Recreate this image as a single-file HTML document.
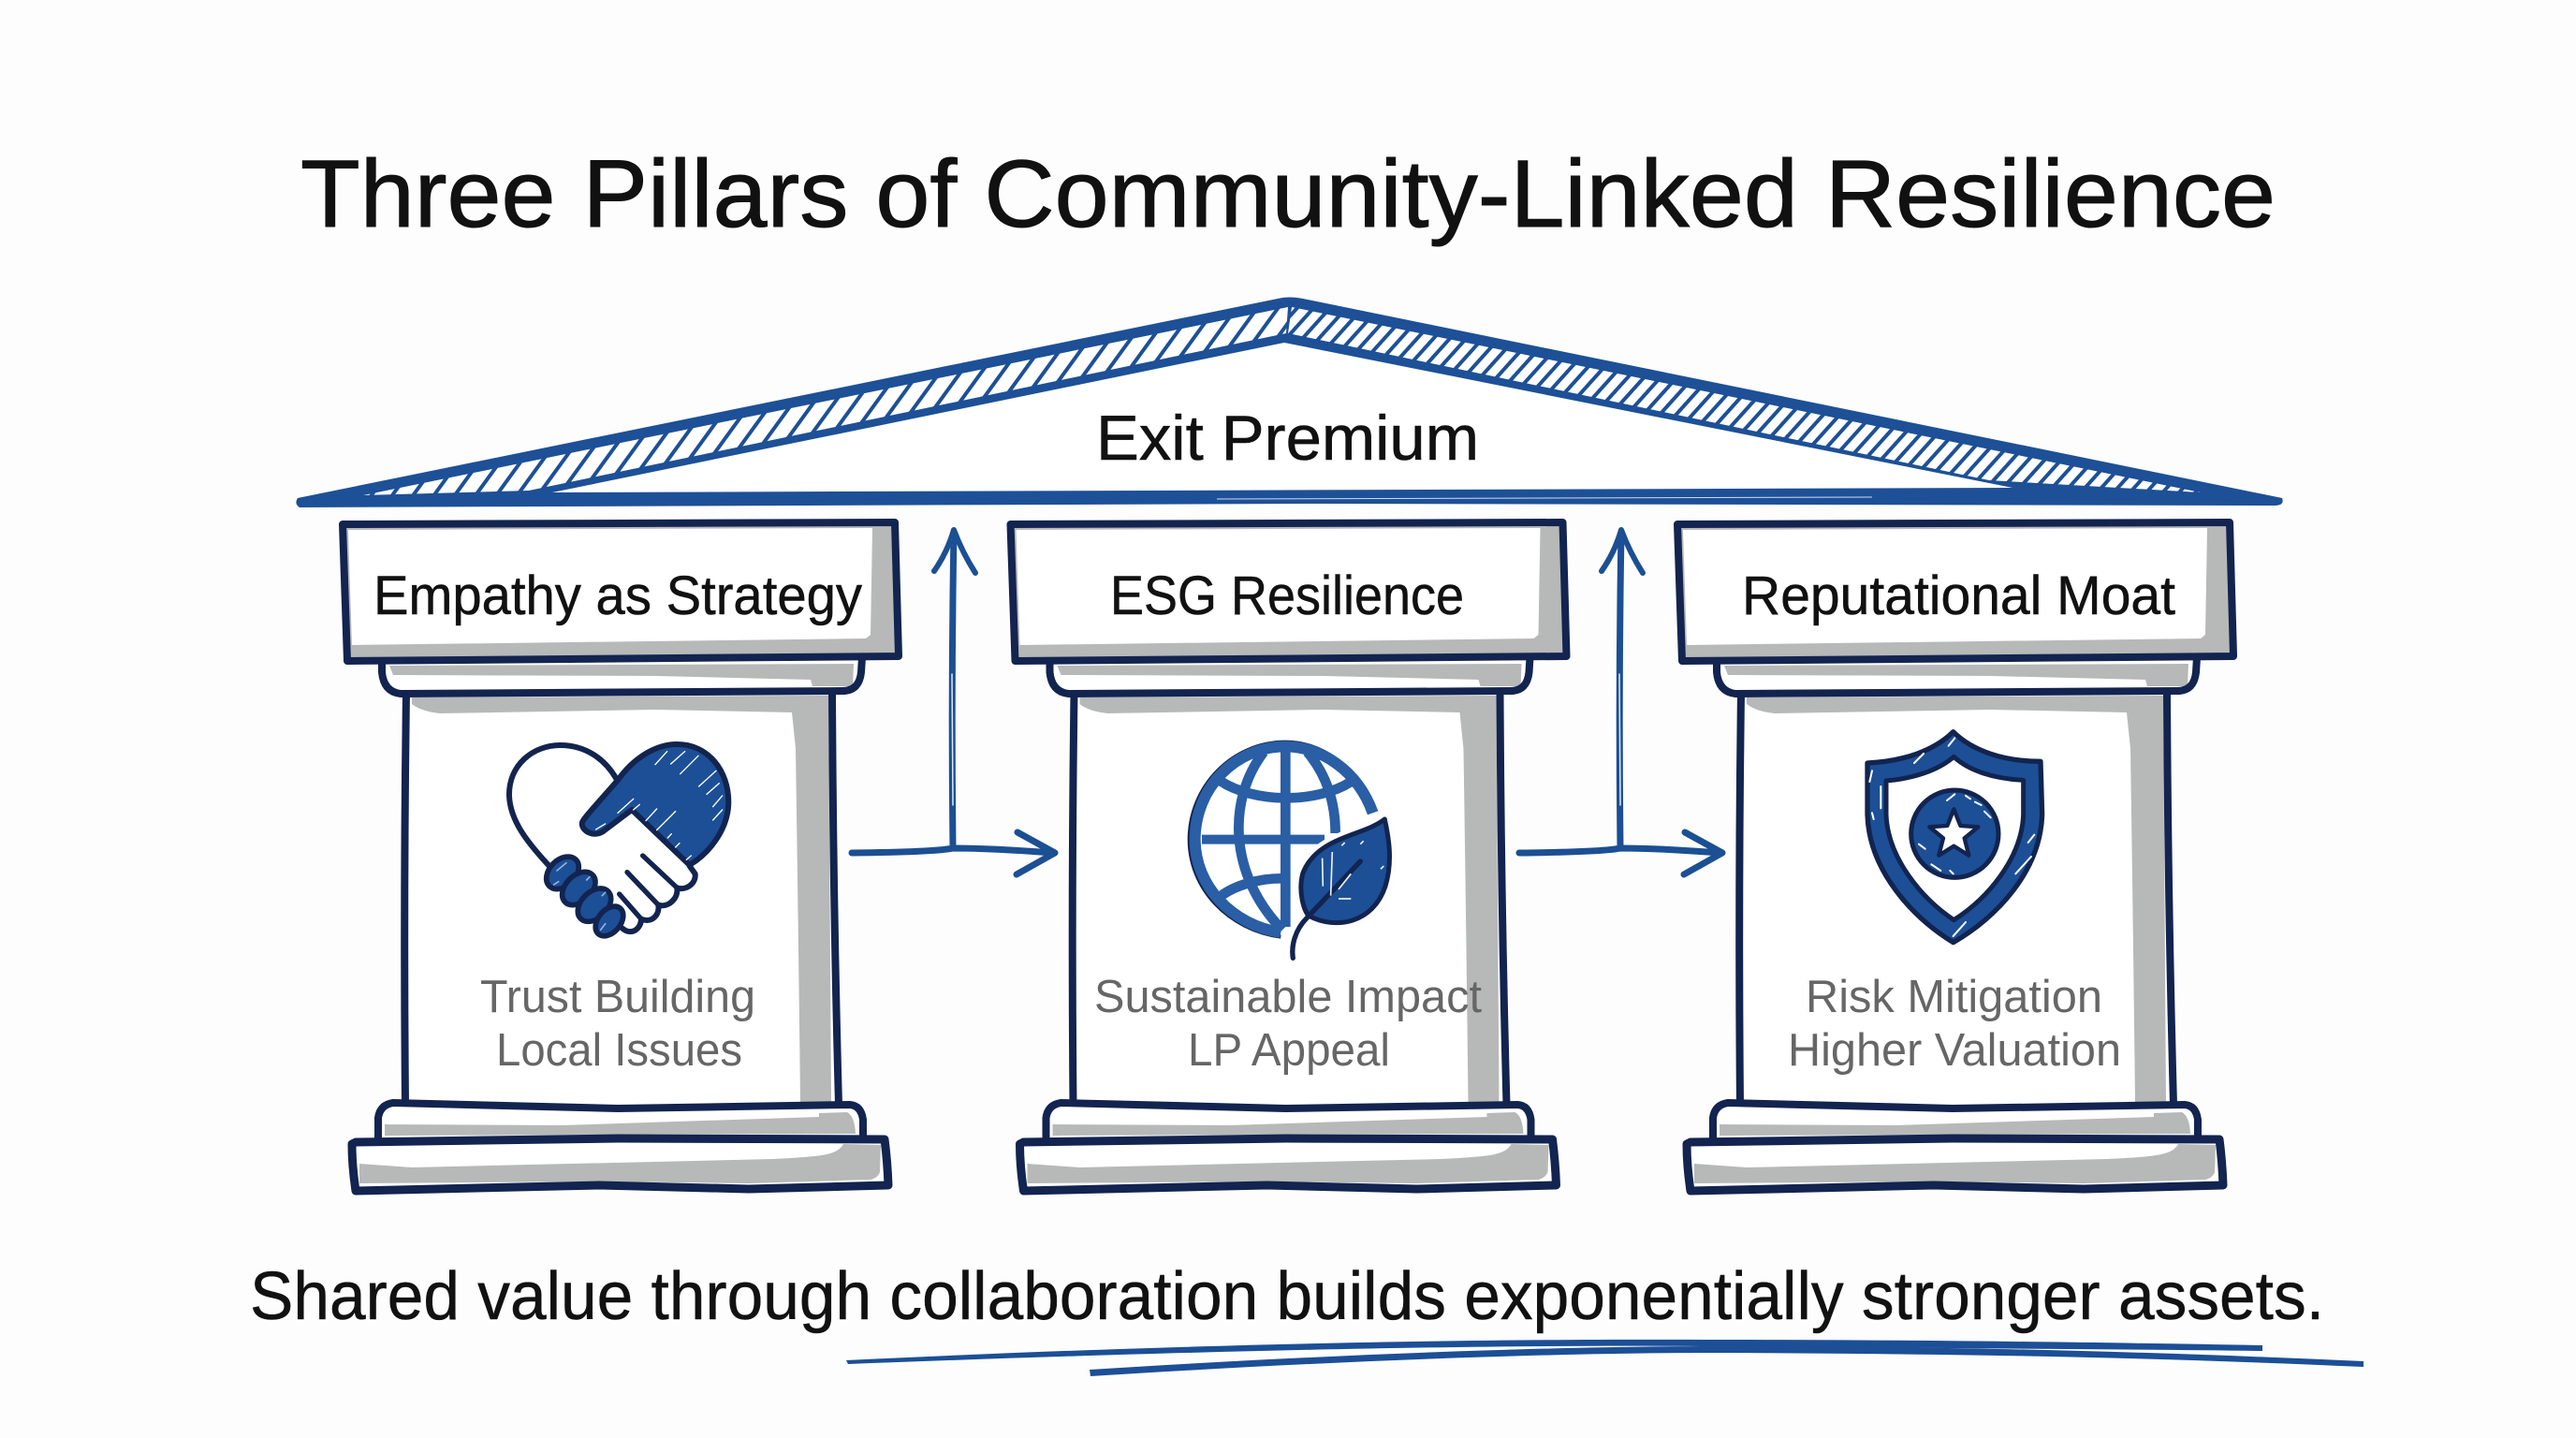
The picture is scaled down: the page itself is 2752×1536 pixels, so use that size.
<!DOCTYPE html>
<html lang="en"><head><meta charset="utf-8"><title>Three Pillars of Community-Linked Resilience</title>
<style>html,body{margin:0;padding:0;background:#fdfdfd}svg{display:block}text{font-family:"Liberation Sans",sans-serif;text-anchor:start}</style></head>
<body>
<svg xmlns="http://www.w3.org/2000/svg" width="2752" height="1536" viewBox="0 0 2752 1536">
<defs>
<pattern id="hl" width="18" height="18" patternUnits="userSpaceOnUse" patternTransform="rotate(36)">
<rect width="18" height="18" fill="#fff"/><rect width="4" height="18" fill="#1d5096"/></pattern>
<pattern id="hr" width="13" height="13" patternUnits="userSpaceOnUse" patternTransform="rotate(42)">
<rect width="13" height="13" fill="#fff"/><rect width="4" height="13" fill="#1d5096"/></pattern>
<g id="pillar" stroke-linejoin="round" stroke-linecap="round">
<path d="M434 740 Q431 960 433 1180 L896 1180 Q890 960 889 740Z" fill="#fff"/>
<path d="M440 745 L885 743 L888 1178 L855 1178 Q853 1000 850 800 L846 761 L700 758 L470 762 Q450 760 440 752Z" fill="#b7b8b8"/>
<path d="M434 740 Q431 960 433 1180 M889 740 Q890 960 896 1180" fill="none" stroke="#12244f" stroke-width="8"/>
<path d="M408 704 L408 718 Q410 739 428 741 L900 738 Q918 738 920 718 L921 702Z" fill="#fff"/>
<path d="M416 711 L912 709 L911 733 L868 733 L866 726 L700 722 L420 721Z" fill="#b7b8b8"/>
<path d="M408 704 L408 718 Q410 739 428 741 L900 738 Q918 738 920 718 L921 702" fill="none" stroke="#12244f" stroke-width="8"/>
<path d="M366 560 L956 558 L960 701 L371 706Z" fill="#b7b8b8" stroke="#12244f" stroke-width="8"/>
<path d="M372 566 L932 564 L930 678 L925 682 L376 689Z" fill="#fff"/>
<path d="M404 1216 L404 1194 Q406 1180 420 1178 L660 1184 L908 1180 Q920 1181 922 1196 L922 1216Z" fill="#fff"/>
<path d="M411 1201 L600 1202 L875 1193 L875 1189 L905 1188 Q913 1192 914 1211 L411 1213Z" fill="#b7b8b8"/>
<path d="M404 1216 L404 1194 Q406 1180 420 1178 L660 1184 L908 1180 Q920 1181 922 1196 L922 1216" fill="none" stroke="#12244f" stroke-width="8"/>
<path d="M380 1220 L660 1216 L945 1217 Q948 1240 949 1266 L800 1270 L640 1266 L380 1272 Q376 1245 376 1222Z" fill="#fff"/>
<path d="M384 1243 L440 1247 L825 1238 Q870 1236 883 1233 Q897 1230 901 1222 L941 1223 L940 1252 Q938 1258 930 1260 L800 1264 L640 1262 L384 1264Z" fill="#b7b8b8"/>
<path d="M380 1220 L660 1216 L945 1217 Q948 1240 949 1266 L800 1270 L640 1266 L380 1272 Q376 1245 376 1222Z" fill="none" stroke="#12244f" stroke-width="9"/>
</g>
<g id="arrow" fill="none" stroke="#1c4f93" stroke-linecap="round" stroke-linejoin="round">
<path d="M1019 568 Q1016 740 1018 905" stroke-width="7"/>
<path d="M910 911 Q1000 910 1018 906 Q1060 906 1124 911" stroke-width="7"/>
<path d="M998 610 Q1012 590 1019 566 Q1028 590 1042 612" stroke-width="6"/>
<path d="M1087 889 L1127 911 L1086 934" stroke-width="7"/>
<path d="M1017 720 L1018 860" stroke="#dfe8f3" stroke-width="1.5"/>
</g>
</defs>

<rect width="2752" height="1536" fill="#fdfdfd"/>

<text x="321" y="242" font-size="102" fill="#111" stroke="#111" stroke-width="1" textLength="2110" lengthAdjust="spacingAndGlyphs">Three Pillars of Community-Linked Resilience</text>

<!-- roof -->
<path d="M318 532 L1365 319 Q1377 316 1392 319 L2438 532 Q2441 540 2430 540 L1400 538 L320 542 Q314 538 318 532Z" fill="#1d5096"/>
<path d="M388 529 L1376 328 L1374 356 L565 524Z" fill="url(#hl)"/>
<path d="M1380 328 L2351 526 L2125 513 L1376 356Z" fill="url(#hr)"/>
<path d="M590 526 L1372 366 L2150 521Z" fill="#fff"/>
<path d="M1300 533 L2000 531" stroke="#cfdcee" stroke-width="1" fill="none"/>
<text x="1171" y="491" font-size="68" fill="#111" stroke="#111" stroke-width=".6" textLength="409" lengthAdjust="spacingAndGlyphs">Exit Premium</text>

<!-- pillars -->
<use href="#pillar"/>
<use href="#pillar" x="713.5"/>
<use href="#pillar" x="1426"/>

<text x="399" y="656" font-size="58" fill="#111" stroke="#111" stroke-width=".5" textLength="522" lengthAdjust="spacingAndGlyphs">Empathy as Strategy</text>
<text x="1186" y="656" font-size="58" fill="#111" stroke="#111" stroke-width=".5" textLength="378" lengthAdjust="spacingAndGlyphs">ESG Resilience</text>
<text x="1861" y="656" font-size="58" fill="#111" stroke="#111" stroke-width=".5" textLength="463" lengthAdjust="spacingAndGlyphs">Reputational Moat</text>

<text x="513" y="1081" font-size="49" fill="#666" textLength="294" lengthAdjust="spacingAndGlyphs">Trust Building</text>
<text x="530" y="1138" font-size="49" fill="#666" textLength="263" lengthAdjust="spacingAndGlyphs">Local Issues</text>
<text x="1169" y="1081" font-size="49" fill="#666" textLength="414" lengthAdjust="spacingAndGlyphs">Sustainable Impact</text>
<text x="1269" y="1138" font-size="49" fill="#666" textLength="216" lengthAdjust="spacingAndGlyphs">LP Appeal</text>
<text x="1929" y="1081" font-size="49" fill="#666" textLength="317" lengthAdjust="spacingAndGlyphs">Risk Mitigation</text>
<text x="1910" y="1138" font-size="49" fill="#666" textLength="356" lengthAdjust="spacingAndGlyphs">Higher Valuation</text>

<!-- arrows -->
<use href="#arrow"/>
<use href="#arrow" x="713"/>

<!-- handshake -->
<g transform="translate(520 770) scale(.3333)" stroke-linejoin="round" stroke-linecap="round">
<path d="M205 470 C130 390 75 320 72 240 C70 140 150 78 235 78 C320 78 380 125 415 185" fill="none" stroke="#12244f" stroke-width="18"/>
<path d="M650 465 L668 490 C672 520 640 545 610 535 C615 570 580 600 550 590 C555 620 530 650 495 635 C495 665 465 690 435 665 L300 500 L460 285Z" fill="#fff"/>
<path d="M650 465 L668 490 C672 520 640 545 610 535 C615 570 580 600 550 590 C555 620 530 650 495 635 C495 665 465 690 435 665" fill="none" stroke="#12244f" stroke-width="18"/>
<path d="M500 432 L610 535 M450 485 L550 590 M425 555 L495 635" fill="none" stroke="#12244f" stroke-width="16"/>
<path d="M420 190 C470 120 540 75 610 75 C710 75 775 160 775 260 C775 340 720 420 650 462 L465 285 L372 355 C340 375 300 350 306 325 C312 310 350 270 420 190Z" fill="#1c4f96" stroke="#12244f" stroke-width="18"/>
<path d="M540 140 L578 98 M590 138 L635 98 M620 170 L678 112 M680 210 L735 160 M705 235 L745 200 M725 275 L755 240 M725 318 L755 285 M545 350 L605 290 M510 320 L545 282 M470 285 L490 268 M350 348 L380 330 M580 375 L592 362 M605 405 L618 392 M640 445 L655 432 M420 295 L470 250" stroke="#fff" stroke-width="4" fill="none"/>
<g fill="#1c4f96" stroke="#12244f" stroke-width="17">
<ellipse cx="243" cy="487" rx="60" ry="42" transform="rotate(-45 243 487)"/>
<ellipse cx="295" cy="537" rx="62" ry="42" transform="rotate(-45 295 537)"/>
<ellipse cx="345" cy="590" rx="62" ry="42" transform="rotate(-45 345 590)"/>
<ellipse cx="393" cy="642" rx="54" ry="36" transform="rotate(-50 393 642)"/>
</g>
<path d="M225 480 L255 455 M215 525 L230 515 M320 510 L330 500 M370 560 L380 550 M365 670 L380 650" stroke="#8fb3dc" stroke-width="5" fill="none"/>
</g>

<!-- globe -->
<g transform="translate(1240 760) scale(.3333)" fill="none" stroke-linecap="butt" stroke-linejoin="round">
<path d="M682 322 C630 170 510 98 400 98 C230 98 92 240 92 410 C92 570 220 700 385 722" stroke="#12244f" stroke-width="12"/>
<path d="M680 325 C630 185 510 112 400 112 C240 112 110 245 110 410 C110 560 230 685 385 708" stroke="#2a5ea5" stroke-width="36"/>
<g stroke="#2a5ea5" stroke-width="32">
<path d="M400 110 L400 690"/>
<path d="M132 410 L525 410" stroke-width="30"/>
<path d="M330 130 C215 280 215 520 390 700"/>
<path d="M470 130 C530 200 560 290 560 390"/>
<path d="M190 222 C300 295 500 295 610 225"/>
<path d="M192 592 C240 555 320 535 385 535"/>
</g>
<path d="M718 345 C650 400 500 400 455 520 C440 580 460 640 475 655 C560 700 680 680 720 560 C745 480 730 400 718 345Z" fill="#fff" stroke="#fdfdfd" stroke-width="42"/>
<path d="M718 345 C650 400 500 400 455 520 C440 580 460 640 475 655 C560 700 680 680 720 560 C745 480 730 400 718 345Z" fill="#1c4f96" stroke="#12244f" stroke-width="15"/>
<path d="M640 480 L470 660 C430 700 418 750 424 790" stroke="#12244f" stroke-width="16" stroke-linecap="round"/>
<path d="M518 470 L520 560 M550 450 L545 590 M610 520 L570 570 M580 430 L590 420 M640 425 L650 415 M705 505 L715 495 M570 600 L610 600" stroke="#e8eff8" stroke-width="5"/>
</g>

<!-- shield -->
<g transform="translate(1960 760) scale(.3333)" stroke-linejoin="round">
<path d="M380 65 C320 125 220 160 105 165 L105 330 C110 510 250 660 380 740 C520 660 660 510 665 330 L660 160 C540 160 440 125 380 65Z" fill="#1c4f96" stroke="#12244f" stroke-width="16"/>
<path d="M382 145 C330 190 250 215 165 222 L165 330 C170 470 280 600 382 668 C490 600 600 470 605 330 L605 220 C510 215 430 190 382 145Z" fill="#fff" stroke="#12244f" stroke-width="15"/>
<circle cx="385" cy="392" r="140" fill="#1c4f96" stroke="#12244f" stroke-width="15"/>
<path d="M382 313 L403 366 L460 370 L416 406 L430 461 L382 431 L334 461 L348 406 L304 370 L361 366Z" fill="#fff" stroke="#12244f" stroke-width="13"/>
<path d="M255 165 L285 135 M365 110 L385 85 M120 190 L112 225 M148 240 L148 310 M120 325 L125 345 M620 420 L640 395 M580 520 L630 465 M380 720 L420 675 M360 285 L385 265 M420 270 L435 280 M450 290 L470 300 M270 425 L290 440 M310 490 L340 510 M370 510 L380 520 M480 320 L500 340" stroke="#fff" stroke-width="6" fill="none" stroke-linecap="round"/>
</g>

<text x="267" y="1409" font-size="72" fill="#111" stroke="#111" stroke-width=".5" textLength="2216" lengthAdjust="spacingAndGlyphs">Shared value through collaboration builds exponentially stronger assets.</text>

<g fill="#1c4f96">
<path d="M904 1453 C1300 1434 1600 1430 1830 1431 C2050 1431 2250 1434 2417 1437 L2417 1443 C2250 1441 2050 1440 1830 1438 C1600 1436 1300 1442 906 1457Z"/>
<path d="M1164 1463 C1400 1448 1650 1438 1830 1438 C2100 1438 2300 1444 2525 1454 L2525 1460 C2300 1450 2100 1446 1830 1445 C1650 1445 1400 1455 1165 1470Z"/>
</g>
</svg>
</body></html>
